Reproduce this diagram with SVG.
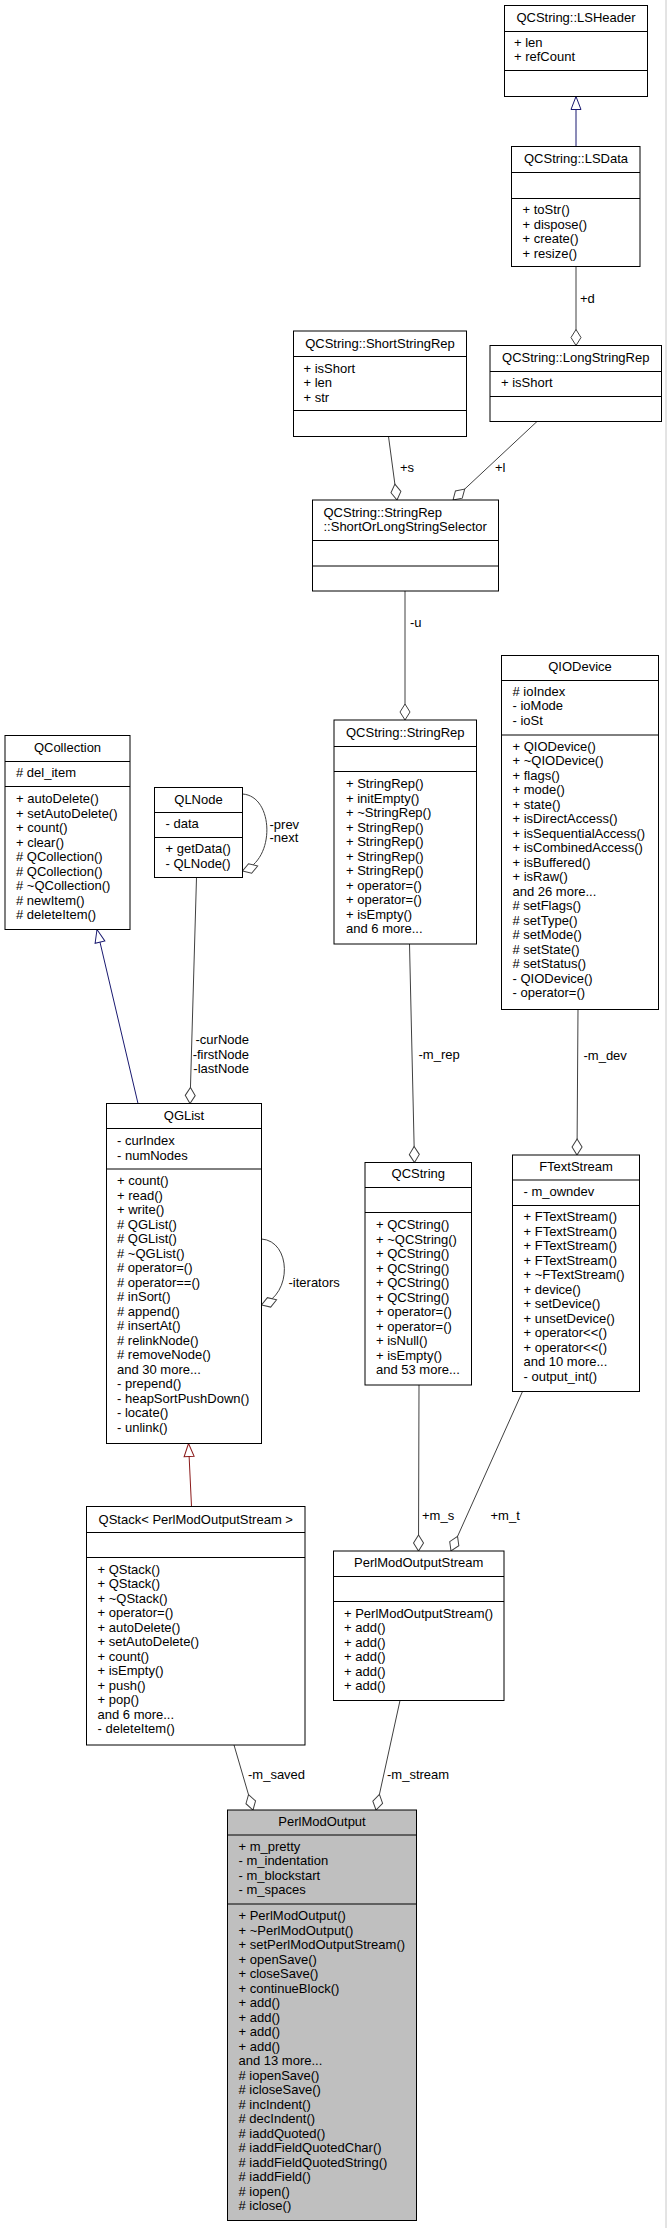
<svg xmlns="http://www.w3.org/2000/svg" width="667" height="2228" viewBox="0 0 667 2228">
<style>
text{font-family:"Liberation Sans",Arial,Helvetica,sans-serif;font-size:13px;fill:#000}
.t{text-anchor:middle}
.end{text-anchor:end}
.r{fill:#fff;stroke:#000;stroke-width:1}
.g{fill:#bfbfbf}
.s{stroke:#000;stroke-width:1}
.e{fill:none;stroke:#404040;stroke-width:1}
.ib{fill:none;stroke:#191970;stroke-width:1}
.ir{fill:none;stroke:#8b1a1a;stroke-width:1}
</style>
<defs>
<marker id="dia" markerUnits="userSpaceOnUse" markerWidth="18" markerHeight="12" refX="16" refY="5" orient="auto" overflow="visible"><path d="M0,5 L8,0 L16,5 L8,10 Z" fill="#fff" stroke="#404040"/></marker>
<marker id="trib" markerUnits="userSpaceOnUse" markerWidth="14" markerHeight="12" refX="13" refY="5" orient="auto" overflow="visible"><path d="M0,0 L13,5 L0,10 Z" fill="#fff" stroke="#191970"/></marker>
<marker id="trir" markerUnits="userSpaceOnUse" markerWidth="14" markerHeight="12" refX="13" refY="5" orient="auto" overflow="visible"><path d="M0,0 L13,5 L0,10 Z" fill="#fff" stroke="#8b1a1a"/></marker>
</defs>
<rect width="667" height="2228" fill="#fff"/>
<line x1="666" y1="0" x2="666" y2="2228" stroke="#c8c8c8"/>

<g id="edges">
<path class="ib" d="M576,146.5 L576,96.5" marker-end="url(#trib)"/>
<path class="e" d="M576,266.5 L576,345.5" marker-end="url(#dia)"/>
<text x="580" y="303">+d</text>
<path class="e" d="M388.5,436.5 L397,500" marker-end="url(#dia)"/>
<text x="400" y="472">+s</text>
<path class="e" d="M537,421.5 L453,500" marker-end="url(#dia)"/>
<text x="495" y="472">+l</text>
<path class="e" d="M405,591 L405,720" marker-end="url(#dia)"/>
<text x="410" y="627">-u</text>
<path class="e" d="M578,1009.5 L577,1155" marker-end="url(#dia)"/>
<text x="583.5" y="1059.5">-m_dev</text>
<path class="ib" d="M138,1103.5 L97,929.5" marker-end="url(#trib)"/>
<path class="e" d="M242.5,794 C274,796 276,860 242.5,871" marker-end="url(#dia)"/>
<text x="269.5" y="828.5">-prev</text>
<text x="269.5" y="842">-next</text>
<path class="e" d="M196.5,877.5 L190,1103.5" marker-end="url(#dia)"/>
<text class="end" x="249" y="1044">-curNode</text>
<text class="end" x="249" y="1058.5">-firstNode</text>
<text class="end" x="249" y="1073">-lastNode</text>
<path class="e" d="M261.5,1239 C291,1241 293,1294 261.5,1305" marker-end="url(#dia)"/>
<text x="288.5" y="1287">-iterators</text>
<path class="e" d="M409.5,944 L414.5,1162.5" marker-end="url(#dia)"/>
<text x="418.5" y="1058.5">-m_rep</text>
<path class="ir" d="M191.5,1506.5 L188.5,1443.5" marker-end="url(#trir)"/>
<path class="e" d="M419,1385 L418.5,1551" marker-end="url(#dia)"/>
<text x="422" y="1520">+m_s</text>
<path class="e" d="M522.5,1391.5 L451,1551" marker-end="url(#dia)"/>
<text x="490.5" y="1520">+m_t</text>
<path class="e" d="M234,1745 L253,1810" marker-end="url(#dia)"/>
<text x="248" y="1779">-m_saved</text>
<path class="e" d="M400,1700.5 L376,1810" marker-end="url(#dia)"/>
<text x="387" y="1779">-m_stream</text>
</g>

<g id="LSHeader">
<rect class="r" x="504.5" y="5.5" width="143" height="91"/>
<line class="s" x1="504.5" y1="31.5" x2="647.5" y2="31.5"/>
<line class="s" x1="504.5" y1="70.5" x2="647.5" y2="70.5"/>
<text class="t" x="576" y="22">QCString::LSHeader</text>
<text x="514" y="46.5">+ len</text>
<text x="514" y="61">+ refCount</text>
</g>

<g id="LSData">
<rect class="r" x="511.5" y="146.5" width="128.5" height="120"/>
<line class="s" x1="511.5" y1="172.5" x2="640" y2="172.5"/>
<line class="s" x1="511.5" y1="198.5" x2="640" y2="198.5"/>
<text class="t" x="576" y="163">QCString::LSData</text>
<text x="522.5" y="214"><tspan x="522.5">+ toStr()</tspan><tspan x="522.5" dy="14.5">+ dispose()</tspan><tspan x="522.5" dy="14.5">+ create()</tspan><tspan x="522.5" dy="14.5">+ resize()</tspan></text>
</g>

<g id="LongStringRep">
<rect class="r" x="490" y="345.5" width="171.5" height="76"/>
<line class="s" x1="490" y1="371.5" x2="661.5" y2="371.5"/>
<line class="s" x1="490" y1="396.5" x2="661.5" y2="396.5"/>
<text class="t" x="575.75" y="362">QCString::LongStringRep</text>
<text x="501" y="387">+ isShort</text>
</g>

<g id="ShortStringRep">
<rect class="r" x="293.5" y="331" width="173" height="105.5"/>
<line class="s" x1="293.5" y1="356.5" x2="466.5" y2="356.5"/>
<line class="s" x1="293.5" y1="410.5" x2="466.5" y2="410.5"/>
<text class="t" x="380" y="347.5">QCString::ShortStringRep</text>
<text x="303.5" y="372.5"><tspan x="303.5">+ isShort</tspan><tspan x="303.5" dy="14.5">+ len</tspan><tspan x="303.5" dy="14.5">+ str</tspan></text>
</g>

<g id="ShortOrLongStringSelector">
<rect class="r" x="312.5" y="500" width="186" height="91"/>
<line class="s" x1="312.5" y1="540.5" x2="498.5" y2="540.5"/>
<line class="s" x1="312.5" y1="566" x2="498.5" y2="566"/>
<text x="323.5" y="516.5">QCString::StringRep</text>
<text x="323.5" y="531">::ShortOrLongStringSelector</text>
</g>

<g id="StringRep">
<rect class="r" x="334" y="720" width="142.5" height="224"/>
<line class="s" x1="334" y1="746.5" x2="476.5" y2="746.5"/>
<line class="s" x1="334" y1="771.5" x2="476.5" y2="771.5"/>
<text class="t" x="405.25" y="737">QCString::StringRep</text>
<text x="346" y="788"><tspan x="346">+ StringRep()</tspan><tspan x="346" dy="14.5">+ initEmpty()</tspan><tspan x="346" dy="14.5">+ ~StringRep()</tspan><tspan x="346" dy="14.5">+ StringRep()</tspan><tspan x="346" dy="14.5">+ StringRep()</tspan><tspan x="346" dy="14.5">+ StringRep()</tspan><tspan x="346" dy="14.5">+ StringRep()</tspan><tspan x="346" dy="14.5">+ operator=()</tspan><tspan x="346" dy="14.5">+ operator=()</tspan><tspan x="346" dy="14.5">+ isEmpty()</tspan><tspan x="346" dy="14.5">and 6 more...</tspan></text>
</g>

<g id="QIODevice">
<rect class="r" x="501.5" y="655.5" width="157" height="354"/>
<line class="s" x1="501.5" y1="680.5" x2="658.5" y2="680.5"/>
<line class="s" x1="501.5" y1="735" x2="658.5" y2="735"/>
<text class="t" x="580" y="671">QIODevice</text>
<text x="512.5" y="695.5"><tspan x="512.5"># ioIndex</tspan><tspan x="512.5" dy="14.5">- ioMode</tspan><tspan x="512.5" dy="14.5">- ioSt</tspan></text>
<text x="512.5" y="750.5"><tspan x="512.5">+ QIODevice()</tspan><tspan x="512.5" dy="14.5">+ ~QIODevice()</tspan><tspan x="512.5" dy="14.5">+ flags()</tspan><tspan x="512.5" dy="14.5">+ mode()</tspan><tspan x="512.5" dy="14.5">+ state()</tspan><tspan x="512.5" dy="14.5">+ isDirectAccess()</tspan><tspan x="512.5" dy="14.5">+ isSequentialAccess()</tspan><tspan x="512.5" dy="14.5">+ isCombinedAccess()</tspan><tspan x="512.5" dy="14.5">+ isBuffered()</tspan><tspan x="512.5" dy="14.5">+ isRaw()</tspan><tspan x="512.5" dy="14.5">and 26 more...</tspan><tspan x="512.5" dy="14.5"># setFlags()</tspan><tspan x="512.5" dy="14.5"># setType()</tspan><tspan x="512.5" dy="14.5"># setMode()</tspan><tspan x="512.5" dy="14.5"># setState()</tspan><tspan x="512.5" dy="14.5"># setStatus()</tspan><tspan x="512.5" dy="14.5">- QIODevice()</tspan><tspan x="512.5" dy="14.5">- operator=()</tspan></text>
</g>

<g id="QCollection">
<rect class="r" x="5" y="735.5" width="125" height="194"/>
<line class="s" x1="5" y1="761.5" x2="130" y2="761.5"/>
<line class="s" x1="5" y1="786.5" x2="130" y2="786.5"/>
<text class="t" x="67.5" y="752">QCollection</text>
<text x="16" y="777"># del_item</text>
<text x="16" y="803"><tspan x="16">+ autoDelete()</tspan><tspan x="16" dy="14.5">+ setAutoDelete()</tspan><tspan x="16" dy="14.5">+ count()</tspan><tspan x="16" dy="14.5">+ clear()</tspan><tspan x="16" dy="14.5"># QCollection()</tspan><tspan x="16" dy="14.5"># QCollection()</tspan><tspan x="16" dy="14.5"># ~QCollection()</tspan><tspan x="16" dy="14.5"># newItem()</tspan><tspan x="16" dy="14.5"># deleteItem()</tspan></text>
</g>

<g id="QLNode">
<rect class="r" x="154.5" y="787.5" width="88" height="90"/>
<line class="s" x1="154.5" y1="812.5" x2="242.5" y2="812.5"/>
<line class="s" x1="154.5" y1="837.5" x2="242.5" y2="837.5"/>
<text class="t" x="198.5" y="804">QLNode</text>
<text x="165.5" y="828">- data</text>
<text x="165.5" y="853"><tspan x="165.5">+ getData()</tspan><tspan x="165.5" dy="14.5">- QLNode()</tspan></text>
</g>

<g id="QGList">
<rect class="r" x="106.5" y="1103.5" width="155" height="340"/>
<line class="s" x1="106.5" y1="1128.5" x2="261.5" y2="1128.5"/>
<line class="s" x1="106.5" y1="1169" x2="261.5" y2="1169"/>
<text class="t" x="184" y="1120">QGList</text>
<text x="117" y="1145"><tspan x="117">- curIndex</tspan><tspan x="117" dy="14.5">- numNodes</tspan></text>
<text x="117" y="1185"><tspan x="117">+ count()</tspan><tspan x="117" dy="14.5">+ read()</tspan><tspan x="117" dy="14.5">+ write()</tspan><tspan x="117" dy="14.5"># QGList()</tspan><tspan x="117" dy="14.5"># QGList()</tspan><tspan x="117" dy="14.5"># ~QGList()</tspan><tspan x="117" dy="14.5"># operator=()</tspan><tspan x="117" dy="14.5"># operator==()</tspan><tspan x="117" dy="14.5"># inSort()</tspan><tspan x="117" dy="14.5"># append()</tspan><tspan x="117" dy="14.5"># insertAt()</tspan><tspan x="117" dy="14.5"># relinkNode()</tspan><tspan x="117" dy="14.5"># removeNode()</tspan><tspan x="117" dy="14.5">and 30 more...</tspan><tspan x="117" dy="14.5">- prepend()</tspan><tspan x="117" dy="14.5">- heapSortPushDown()</tspan><tspan x="117" dy="14.5">- locate()</tspan><tspan x="117" dy="14.5">- unlink()</tspan></text>
</g>

<g id="QCString">
<rect class="r" x="365" y="1162.5" width="106.5" height="222.5"/>
<line class="s" x1="365" y1="1187.5" x2="471.5" y2="1187.5"/>
<line class="s" x1="365" y1="1212.5" x2="471.5" y2="1212.5"/>
<text class="t" x="418.25" y="1178">QCString</text>
<text x="376" y="1229"><tspan x="376">+ QCString()</tspan><tspan x="376" dy="14.5">+ ~QCString()</tspan><tspan x="376" dy="14.5">+ QCString()</tspan><tspan x="376" dy="14.5">+ QCString()</tspan><tspan x="376" dy="14.5">+ QCString()</tspan><tspan x="376" dy="14.5">+ QCString()</tspan><tspan x="376" dy="14.5">+ operator=()</tspan><tspan x="376" dy="14.5">+ operator=()</tspan><tspan x="376" dy="14.5">+ isNull()</tspan><tspan x="376" dy="14.5">+ isEmpty()</tspan><tspan x="376" dy="14.5">and 53 more...</tspan></text>
</g>

<g id="FTextStream">
<rect class="r" x="512.5" y="1155" width="127" height="236.5"/>
<line class="s" x1="512.5" y1="1180" x2="639.5" y2="1180"/>
<line class="s" x1="512.5" y1="1205.5" x2="639.5" y2="1205.5"/>
<text class="t" x="576" y="1171">FTextStream</text>
<text x="523.5" y="1195.5">- m_owndev</text>
<text x="523.5" y="1221"><tspan x="523.5">+ FTextStream()</tspan><tspan x="523.5" dy="14.5">+ FTextStream()</tspan><tspan x="523.5" dy="14.5">+ FTextStream()</tspan><tspan x="523.5" dy="14.5">+ FTextStream()</tspan><tspan x="523.5" dy="14.5">+ ~FTextStream()</tspan><tspan x="523.5" dy="14.5">+ device()</tspan><tspan x="523.5" dy="14.5">+ setDevice()</tspan><tspan x="523.5" dy="14.5">+ unsetDevice()</tspan><tspan x="523.5" dy="14.5">+ operator&lt;&lt;()</tspan><tspan x="523.5" dy="14.5">+ operator&lt;&lt;()</tspan><tspan x="523.5" dy="14.5">and 10 more...</tspan><tspan x="523.5" dy="14.5">- output_int()</tspan></text>
</g>

<g id="QStack">
<rect class="r" x="86.5" y="1506.5" width="218.5" height="238.5"/>
<line class="s" x1="86.5" y1="1532.5" x2="305" y2="1532.5"/>
<line class="s" x1="86.5" y1="1557.5" x2="305" y2="1557.5"/>
<text class="t" x="195.75" y="1524">QStack&lt; PerlModOutputStream &gt;</text>
<text x="97.5" y="1573.5"><tspan x="97.5">+ QStack()</tspan><tspan x="97.5" dy="14.5">+ QStack()</tspan><tspan x="97.5" dy="14.5">+ ~QStack()</tspan><tspan x="97.5" dy="14.5">+ operator=()</tspan><tspan x="97.5" dy="14.5">+ autoDelete()</tspan><tspan x="97.5" dy="14.5">+ setAutoDelete()</tspan><tspan x="97.5" dy="14.5">+ count()</tspan><tspan x="97.5" dy="14.5">+ isEmpty()</tspan><tspan x="97.5" dy="14.5">+ push()</tspan><tspan x="97.5" dy="14.5">+ pop()</tspan><tspan x="97.5" dy="14.5">and 6 more...</tspan><tspan x="97.5" dy="14.5">- deleteItem()</tspan></text>
</g>

<g id="PerlModOutputStream">
<rect class="r" x="333.5" y="1551" width="170.5" height="149.5"/>
<line class="s" x1="333.5" y1="1576.5" x2="504" y2="1576.5"/>
<line class="s" x1="333.5" y1="1601.5" x2="504" y2="1601.5"/>
<text class="t" x="418.75" y="1567">PerlModOutputStream</text>
<text x="344" y="1617.5"><tspan x="344">+ PerlModOutputStream()</tspan><tspan x="344" dy="14.5">+ add()</tspan><tspan x="344" dy="14.5">+ add()</tspan><tspan x="344" dy="14.5">+ add()</tspan><tspan x="344" dy="14.5">+ add()</tspan><tspan x="344" dy="14.5">+ add()</tspan></text>
</g>

<g id="PerlModOutput">
<rect class="r g" x="227.5" y="1810" width="189" height="410.5"/>
<line class="s" x1="227.5" y1="1835" x2="416.5" y2="1835"/>
<line class="s" x1="227.5" y1="1904" x2="416.5" y2="1904"/>
<text class="t" x="322" y="1826">PerlModOutput</text>
<text x="238.5" y="1850.5"><tspan x="238.5">+ m_pretty</tspan><tspan x="238.5" dy="14.5">- m_indentation</tspan><tspan x="238.5" dy="14.5">- m_blockstart</tspan><tspan x="238.5" dy="14.5">- m_spaces</tspan></text>
<text x="238.5" y="1920"><tspan x="238.5">+ PerlModOutput()</tspan><tspan x="238.5" dy="14.5">+ ~PerlModOutput()</tspan><tspan x="238.5" dy="14.5">+ setPerlModOutputStream()</tspan><tspan x="238.5" dy="14.5">+ openSave()</tspan><tspan x="238.5" dy="14.5">+ closeSave()</tspan><tspan x="238.5" dy="14.5">+ continueBlock()</tspan><tspan x="238.5" dy="14.5">+ add()</tspan><tspan x="238.5" dy="14.5">+ add()</tspan><tspan x="238.5" dy="14.5">+ add()</tspan><tspan x="238.5" dy="14.5">+ add()</tspan><tspan x="238.5" dy="14.5">and 13 more...</tspan><tspan x="238.5" dy="14.5"># iopenSave()</tspan><tspan x="238.5" dy="14.5"># icloseSave()</tspan><tspan x="238.5" dy="14.5"># incIndent()</tspan><tspan x="238.5" dy="14.5"># decIndent()</tspan><tspan x="238.5" dy="14.5"># iaddQuoted()</tspan><tspan x="238.5" dy="14.5"># iaddFieldQuotedChar()</tspan><tspan x="238.5" dy="14.5"># iaddFieldQuotedString()</tspan><tspan x="238.5" dy="14.5"># iaddField()</tspan><tspan x="238.5" dy="14.5"># iopen()</tspan><tspan x="238.5" dy="14.5"># iclose()</tspan></text>
</g>
</svg>
